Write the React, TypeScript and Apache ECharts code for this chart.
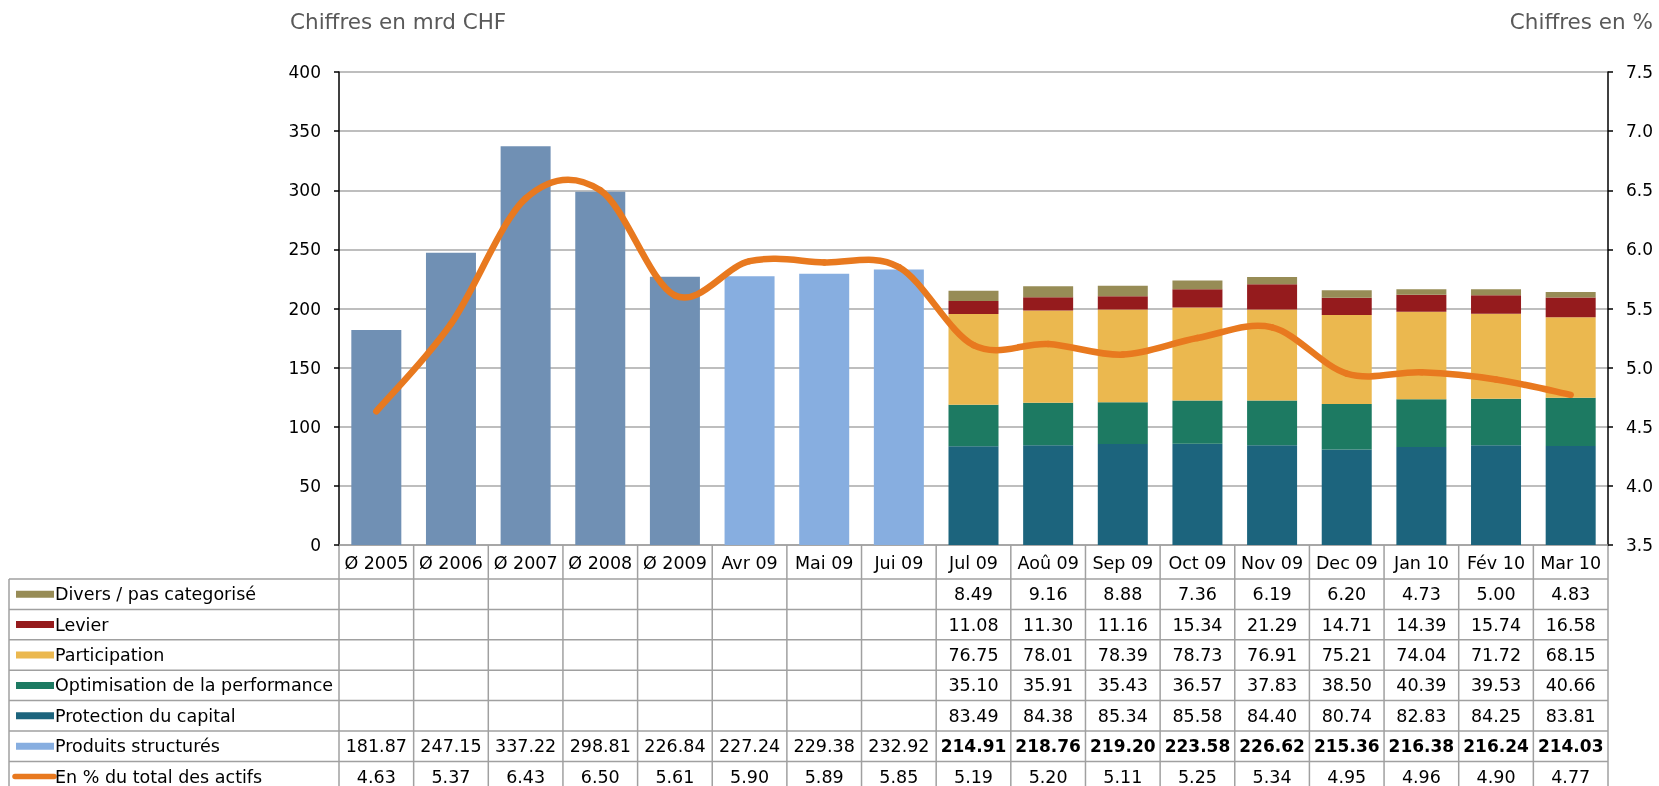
import React, { useEffect, useRef } from 'react';
import * as echarts from 'echarts';

const categories = ['Ø 2005', 'Ø 2006', 'Ø 2007', 'Ø 2008', 'Ø 2009', 'Avr 09', 'Mai 09', 'Jui 09', 'Jul 09', 'Aoû 09', 'Sep 09', 'Oct 09', 'Nov 09', 'Dec 09', 'Jan 10', 'Fév 10', 'Mar 10'];

// Component values (available from Jul 09 onwards; earlier columns are empty)
const divers = [null, null, null, null, null, null, null, null, 8.49, 9.16, 8.88, 7.36, 6.19, 6.20, 4.73, 5.00, 4.83];
const levier = [null, null, null, null, null, null, null, null, 11.08, 11.30, 11.16, 15.34, 21.29, 14.71, 14.39, 15.74, 16.58];
const participation = [null, null, null, null, null, null, null, null, 76.75, 78.01, 78.39, 78.73, 76.91, 75.21, 74.04, 71.72, 68.15];
const optimisation = [null, null, null, null, null, null, null, null, 35.10, 35.91, 35.43, 36.57, 37.83, 38.50, 40.39, 39.53, 40.66];
const protection = [null, null, null, null, null, null, null, null, 83.49, 84.38, 85.34, 85.58, 84.40, 80.74, 82.83, 84.25, 83.81];
const produits = [181.87, 247.15, 337.22, 298.81, 226.84, 227.24, 229.38, 232.92, 214.91, 218.76, 219.20, 223.58, 226.62, 215.36, 216.38, 216.24, 214.03];
const pctActifs = [4.63, 5.37, 6.43, 6.50, 5.61, 5.90, 5.89, 5.85, 5.19, 5.20, 5.11, 5.25, 5.34, 4.95, 4.96, 4.90, 4.77];

const averageColumns = 5; // "Ø" yearly averages
const monthlyTotalColumns = 8; // columns drawn as a single "Produits structurés" bar

const FONT = 'Verdana, "DejaVu Sans", sans-serif';
const TABLE_FS = 17.5;
const C_AVG = '#7090b4';
const C_STRUCT = '#87aee0';
const C_PROT = '#1c647d';
const C_OPT = '#1d7a62';
const C_PART = '#ebb84f';
const C_LEV = '#951b1d';
const C_DIV = '#978c56';
const C_PCT = '#e8791f';

export default function App() {
  const ref = useRef<HTMLDivElement>(null);

  useEffect(() => {
    document.body.style.margin = '0';
    const chart = echarts.init(ref.current!, null, { renderer: 'svg' });

    const structBars = produits.map((v, i) =>
      i < monthlyTotalColumns ? { value: v, itemStyle: { color: i < averageColumns ? C_AVG : C_STRUCT } } : null
    );

    const barBase = { type: 'bar', stack: 'total', barWidth: 50, yAxisIndex: 0 };

    const pctData = pctActifs.map((v, i) => [i, v]);
    const n = pctActifs.length;

    // Excel-like smoothed line: Catmull-Rom segments through each point, positioned with api.coord
    const renderSmoothSegment = (params: any, api: any) => {
      const i = params.dataIndex;
      if (i >= n - 1) return null;
      const p = (k: number) => {
        const kk = Math.max(0, Math.min(n - 1, k));
        return api.coord([kk, pctActifs[kk]]);
      };
      const p0 = p(i - 1), p1 = p(i), p2 = p(i + 1), p3 = p(i + 2);
      const t = 1 / 6;
      return {
        type: 'bezierCurve',
        shape: {
          x1: p1[0], y1: p1[1],
          cpx1: p1[0] + (p2[0] - p0[0]) * t, cpy1: p1[1] + (p2[1] - p0[1]) * t,
          cpx2: p2[0] - (p3[0] - p1[0]) * t, cpy2: p2[1] - (p3[1] - p1[1]) * t,
          x2: p2[0], y2: p2[1],
        },
        style: { stroke: C_PCT, lineWidth: 6.5, fill: null, lineCap: 'round' },
      };
    };

    chart.setOption({
      animation: false,
      grid: { left: 339, right: 51, top: 72, bottom: 241, containLabel: false },
      xAxis: {
        type: 'category',
        data: categories,
        axisLine: { lineStyle: { color: '#a0a0a0', width: 1.5 } },
        axisTick: { show: false },
        axisLabel: { color: '#000', fontSize: TABLE_FS, fontFamily: FONT, margin: 9, interval: 0 },
      },
      yAxis: [
        {
          type: 'value', min: 0, max: 400, interval: 50,
          axisLine: { show: true, lineStyle: { color: '#000', width: 1.5 } },
          axisTick: { show: true, length: 5, lineStyle: { color: '#000', width: 1.5 } },
          axisLabel: { color: '#000', fontSize: 17, fontFamily: FONT, margin: 18 },
          splitLine: { show: true, lineStyle: { color: '#a8a8a8', width: 1.5 } },
        },
        {
          type: 'value', min: 3.5, max: 7.5, interval: 0.5, position: 'right',
          axisLine: { show: true, lineStyle: { color: '#000', width: 1.5 } },
          axisTick: { show: true, length: 5, lineStyle: { color: '#000', width: 1.5 } },
          axisLabel: { color: '#000', fontSize: 17, fontFamily: FONT, margin: 18, formatter: (v: number) => v.toFixed(1) },
          splitLine: { show: false },
        },
      ],
      series: [
        { ...barBase, name: 'Produits structurés', data: structBars, itemStyle: { color: C_STRUCT } },
        { ...barBase, name: 'Protection du capital', data: protection, itemStyle: { color: C_PROT } },
        { ...barBase, name: 'Optimisation de la performance', data: optimisation, itemStyle: { color: C_OPT } },
        { ...barBase, name: 'Participation', data: participation, itemStyle: { color: C_PART } },
        { ...barBase, name: 'Levier', data: levier, itemStyle: { color: C_LEV } },
        { ...barBase, name: 'Divers / pas categorisé', data: divers, itemStyle: { color: C_DIV } },
        {
          type: 'custom', name: 'En % du total des actifs', xAxisIndex: 0, yAxisIndex: 1,
          data: pctData, encode: { x: 0, y: 1 }, z: 5, clip: false,
          renderItem: renderSmoothSegment,
        },
      ],
    });

    // Data table drawn under the axis, aligned on the category axis
    const x0 = chart.convertToPixel({ xAxisIndex: 0 }, 0) as number;
    const x1 = chart.convertToPixel({ xAxisIndex: 0 }, 1) as number;
    const colW = x1 - x0;
    const left = x0 - colW / 2;
    const right = left + categories.length * colW;
    const base = chart.convertToPixel({ yAxisIndex: 0 }, 0) as number;
    const headerH = 34;
    const rowH = 30.4;
    const tableLeft = 9;
    const bottomY = 800;
    const lineColor = '#a0a0a0';

    const rows = [
      { name: 'Divers / pas categorisé', values: divers, color: C_DIV, kind: 'bar' },
      { name: 'Levier', values: levier, color: C_LEV, kind: 'bar' },
      { name: 'Participation', values: participation, color: C_PART, kind: 'bar' },
      { name: 'Optimisation de la performance', values: optimisation, color: C_OPT, kind: 'bar' },
      { name: 'Protection du capital', values: protection, color: C_PROT, kind: 'bar' },
      { name: 'Produits structurés', values: produits, color: C_STRUCT, kind: 'bar', boldFrom: monthlyTotalColumns },
      { name: 'En % du total des actifs', values: pctActifs, color: C_PCT, kind: 'line' },
    ];

    const graphic: any[] = [];
    graphic.push({
      type: 'text', x: 290, y: 21,
      style: { text: 'Chiffres en mrd CHF', fontSize: 21.5, fontFamily: FONT, fill: '#595959', align: 'left', verticalAlign: 'middle' },
    });
    graphic.push({
      type: 'text', x: 1653, y: 21,
      style: { text: 'Chiffres en %', fontSize: 21.5, fontFamily: FONT, fill: '#595959', align: 'right', verticalAlign: 'middle' },
    });

    // horizontal lines
    for (let r = 0; r <= rows.length; r++) {
      const y = base + headerH + r * rowH;
      graphic.push({ type: 'line', shape: { x1: tableLeft, y1: y, x2: right, y2: y }, style: { stroke: lineColor, lineWidth: 1.5 } });
    }
    // left border
    graphic.push({ type: 'line', shape: { x1: tableLeft, y1: base + headerH, x2: tableLeft, y2: bottomY }, style: { stroke: lineColor, lineWidth: 1.5 } });
    // column separators
    for (let k = 0; k <= categories.length; k++) {
      const x = left + k * colW;
      graphic.push({ type: 'line', shape: { x1: x, y1: base, x2: x, y2: bottomY }, style: { stroke: lineColor, lineWidth: 1.5 } });
    }

    rows.forEach((row, r) => {
      const cy = base + headerH + r * rowH + rowH / 2;
      if (row.kind === 'bar') {
        graphic.push({ type: 'rect', shape: { x: 16, y: cy - 3.5, width: 38, height: 7 }, style: { fill: row.color } });
      } else {
        graphic.push({ type: 'line', shape: { x1: 15, y1: cy, x2: 54, y2: cy }, style: { stroke: row.color, lineWidth: 5.5, lineCap: 'round' } });
      }
      graphic.push({
        type: 'text', x: 55, y: cy,
        style: { text: row.name, fontSize: TABLE_FS, fontFamily: FONT, fill: '#000', align: 'left', verticalAlign: 'middle' },
      });
      row.values.forEach((v, i) => {
        if (v === null || v === undefined) return;
        const cx = chart.convertToPixel({ xAxisIndex: 0 }, i) as number;
        const bold = row.boldFrom !== undefined && i >= row.boldFrom;
        graphic.push({
          type: 'text', x: cx, y: cy,
          style: {
            text: (v as number).toFixed(2), fontSize: bold ? 17 : TABLE_FS, fontFamily: FONT, fill: '#000',
            fontWeight: bold ? 'bold' : 'normal', align: 'center', verticalAlign: 'middle',
          },
        });
      });
    });

    chart.setOption({ graphic });

    return () => chart.dispose();
  }, []);

  return <div ref={ref} style={{ position: 'fixed', left: 0, top: 0, width: 1659, height: 786 }} />;
}
